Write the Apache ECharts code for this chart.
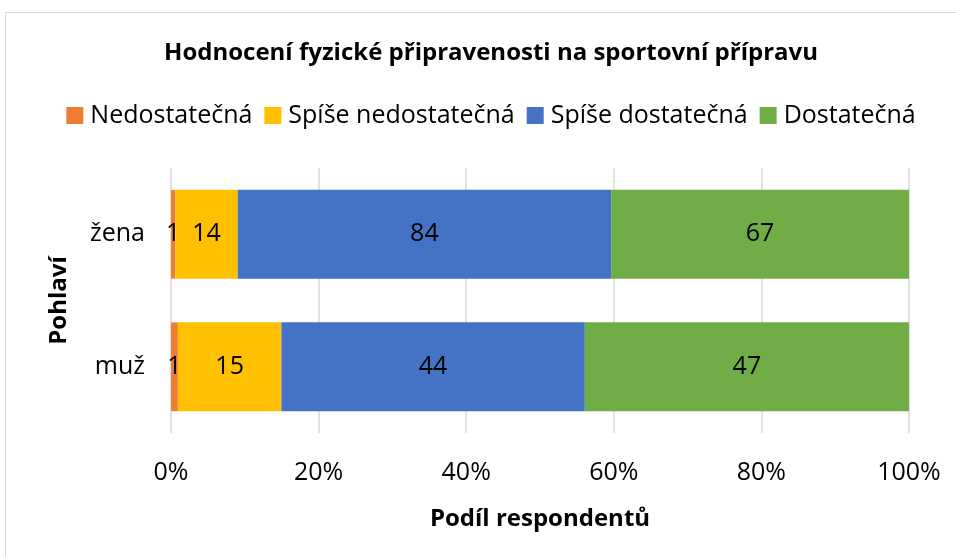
<!DOCTYPE html>
<html>
<head>
<meta charset="utf-8">
<script src="https://cdn.jsdelivr.net/npm/echarts@6/dist/echarts.min.js"></script>
<style>
  html, body { margin: 0; padding: 0; background: #fff; overflow: hidden; }
  #frame { position: absolute; left: 5px; top: 12px; width: 980px; height: 560px; border: 1px solid #d9d9d9; box-sizing: border-box; }
  #chart { width: 982px; height: 557px; position: absolute; left: 0; top: 0; }
</style>
</head>
<body>
<div id="frame"></div>
<div id="chart"></div>
<script>
const categories = ['žena', 'muž'];
const seriesNames = ['Nedostatečná', 'Spíše nedostatečná', 'Spíše dostatečná', 'Dostatečná'];
const nedostatecna = [1, 1];
const spiseNedostatecna = [14, 15];
const spiseDostatecna = [84, 44];
const dostatecna = [67, 47];
const colors = ['#ED7D31', '#FFC000', '#4472C4', '#70AD47'];
const xTicks = [0, 20, 40, 60, 80, 100];

const raw = [nedostatecna, spiseNedostatecna, spiseDostatecna, dostatecna];
const totals = categories.map((c, i) => raw.reduce((s, arr) => s + arr[i], 0));

const font = 'Open Sans, Noto Sans, sans-serif';

// chart box is wider than the window: the original frame runs past the right edge
const chart = echarts.init(document.getElementById('chart'), null, { renderer: 'canvas' });

chart.setOption({
  backgroundColor: 'transparent',
  animation: false,
  title: {
    text: 'Hodnocení fyzické připravenosti na sportovní přípravu',
    left: 'center',
    top: 36,
    textStyle: { fontFamily: font, fontSize: 24, fontWeight: 'bold', color: '#000' }
  },
  legend: {
    top: 98,
    left: 'center',
    itemWidth: 17,
    itemHeight: 17,
    itemGap: 12,
    icon: 'rect',
    textStyle: { fontFamily: font, fontSize: 25, color: '#000', padding: [0, 0, 0, 2] },
    data: seriesNames
  },
  grid: { left: 171, right: 73, top: 168, bottom: 124, containLabel: false },
  xAxis: {
    type: 'value',
    min: 0,
    max: 100,
    interval: 20,
    name: 'Podíl respondentů',
    nameLocation: 'middle',
    nameGap: 74,
    nameTextStyle: { fontFamily: font, fontSize: 24, fontWeight: 'bold', color: '#000' },
    axisLine: { show: false },
    axisTick: { show: false },
    splitLine: { show: true, lineStyle: { color: '#d9d9d9', width: 1.5 } },
    axisLabel: {
      fontFamily: font, fontSize: 25, color: '#000', margin: 27,
      formatter: v => xTicks.includes(v) ? v + '%' : ''
    }
  },
  yAxis: {
    type: 'category',
    data: categories,
    inverse: true,
    name: 'Pohlaví',
    nameLocation: 'middle',
    nameGap: 100,
    nameRotate: 90,
    nameTextStyle: { fontFamily: font, fontSize: 24, fontWeight: 'bold', color: '#000' },
    axisLine: { show: false },
    axisTick: { show: false },
    axisLabel: { fontFamily: font, fontSize: 25, color: '#000', margin: 26 }
  },
  series: raw.map((arr, k) => ({
    name: seriesNames[k],
    type: 'bar',
    stack: 'total',
    barCategoryGap: '33%',
    itemStyle: { color: colors[k] },
    label: {
      show: true,
      position: 'inside',
      fontFamily: font,
      fontSize: 25,
      color: '#000',
      formatter: p => arr[p.dataIndex]
    },
    data: arr.map((v, i) => v / totals[i] * 100)
  }))
});
</script>
</body>
</html>
